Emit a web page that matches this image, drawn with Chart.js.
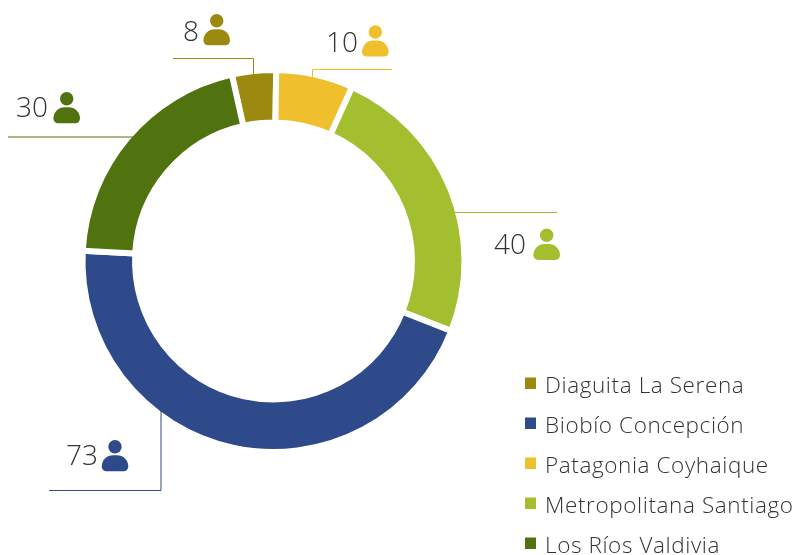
<!DOCTYPE html>
<html><head><meta charset="utf-8">
<style>html,body{margin:0;padding:0;background:#fff}canvas{display:block}</style>
<script src="https://cdn.jsdelivr.net/npm/chart.js@4/dist/chart.umd.js"></script>
</head><body><canvas id="c" width="796" height="555"></canvas>
<script>
// Slices clockwise from the top-left. The printed counts are not proportional to the
// drawn arcs in the reference, so arc sizes (degrees) are kept apart.
const categories = ['Diaguita La Serena','Patagonia Coyhaique','Metropolitana Santiago','Biobío Concepción','Los Ríos Valdivia'];
const printedCounts = ['8','10','40','73','30'];
const arcDegrees = [13.4,23.5,87.2,161.6,74.3];
const colors = ['#9C8A10','#F0BF2D','#A3BE2F','#2F4A8A','#50730F'];
const legendOrder = [0,3,1,2,4];
const leaders = [
  [[173,58.5],[253.5,58.5],[253.5,74]],
  [[392,69.5],[312.5,69.5],[312.5,77]],
  [[557,212.5],[454,212.5]],
  [[49,490.5],[161,490.5],[161,411]],
  [[8,137],[133,137]]
];
const calloutText = [[199,41],[358,52],[526,254],[98,465],[48,117]];
const calloutIcon = [[216.7,20.7],[375.3,32],[546.7,235.3],[115,446.7],[66.7,98.7]];
const FONT = '"Open Sans", Lato, sans-serif';

function person(ctx,x,y,color){
  ctx.fillStyle=color;
  ctx.beginPath();ctx.arc(x,y,6.7,0,Math.PI*2);ctx.fill();
  const l=x-13.3,w=26.6,t=y+8.6,h=16;
  ctx.beginPath();ctx.roundRect(l,t,w,h,[12,12,5,5]);ctx.fill();
}
const annotate={
  id:'annotate',
  afterDatasetsDraw(chart){
    const ctx=chart.ctx;ctx.save();
    ctx.lineWidth=1;
    leaders.forEach((pts,i)=>{
      ctx.strokeStyle=colors[i];ctx.beginPath();
      pts.forEach((p,j)=>j?ctx.lineTo(p[0],p[1]):ctx.moveTo(p[0],p[1]));ctx.stroke();
    });
    ctx.textBaseline='alphabetic';
    printedCounts.forEach((t,i)=>{
      ctx.font='300 28px '+FONT;ctx.fillStyle='#333';ctx.textAlign='right';
      ctx.fillText(t,calloutText[i][0],calloutText[i][1]);
      person(ctx,calloutIcon[i][0],calloutIcon[i][1],colors[i]);
    });
    ctx.textAlign='left';ctx.font='300 22.5px '+FONT;ctx.letterSpacing='0.6px';
    legendOrder.forEach((k,row)=>{
      const y=393+row*40;
      ctx.fillStyle=colors[k];ctx.fillRect(525,y-15.5,11,11.5);
      ctx.fillStyle='#333';ctx.fillText(categories[k],545,y);
    });
    ctx.restore();
  }
};
new Chart(document.getElementById('c'),{
  type:'doughnut',
  data:{labels:categories,datasets:[{data:arcDegrees,backgroundColor:colors,borderColor:'#fff',borderWidth:6,hoverOffset:0}]},
  options:{
    responsive:false,animation:false,rotation:347.4,cutout:'72.5%',
    layout:{padding:{left:79.5,right:328.5,top:67,bottom:100}},
    plugins:{legend:{display:false},tooltip:{enabled:false}}
  },
  plugins:[annotate]
});
</script></body></html>
